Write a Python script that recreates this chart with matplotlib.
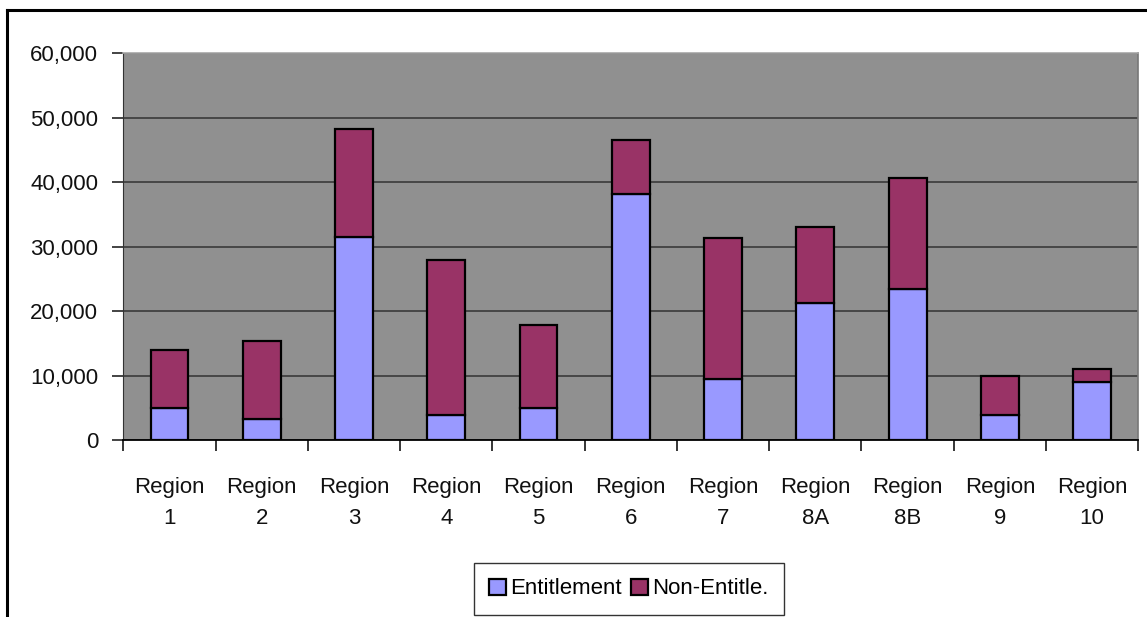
import matplotlib.pyplot as plt
import numpy as np
from matplotlib.lines import Line2D

plt.rcParams['font.family'] = ['Liberation Sans', 'DejaVu Sans']

# Caseload by region, split into entitlement / non-entitlement
regions = ["Region\n1", "Region\n2", "Region\n3", "Region\n4", "Region\n5", "Region\n6",
           "Region\n7", "Region\n8A", "Region\n8B", "Region\n9", "Region\n10"]
entitlement = [4900, 3200, 31500, 3900, 4900, 38100, 9400, 21200, 23500, 3900, 9000]
non_entitle = [9100, 12100, 16700, 24100, 13000, 8400, 21900, 11900, 17100, 6100, 2000]

W, H, DPI = 1147, 617, 100
fig = plt.figure(figsize=(W / DPI, H / DPI), dpi=DPI)
ax = fig.add_axes([123.3 / W, 1 - 440 / H, (1138.3 - 123.3) / W, (440 - 53.3) / H])

x = np.arange(len(regions))
bw = 0.41
ax.bar(x, entitlement, bw, color="#9999FF", edgecolor="black", linewidth=1.6,
       label="Entitlement", zorder=3)
ax.bar(x, non_entitle, bw, bottom=entitlement, color="#993366", edgecolor="black",
       linewidth=1.6, label="Non-Entitle.", zorder=3)

ax.set_facecolor("#909090")
ax.set_xlim(-0.5, len(regions) - 0.5)
ax.set_ylim(0, 60000)
ax.set_yticks(np.arange(0, 60001, 10000))
ax.set_yticklabels([f"{v:,}" for v in range(0, 60001, 10000)])
ax.yaxis.grid(True, color="#333333", linewidth=1.1, zorder=1)

fs = 16
ax.set_xticks(x)
ax.set_xticklabels(regions, linespacing=1.6)
ax.set_xticks(np.arange(-0.5, len(regions)), minor=True)
ax.tick_params(axis="x", which="major", length=0, pad=27)
ax.tick_params(axis="x", which="minor", length=8, width=1.1, color="black")
ax.tick_params(axis="y", length=8, width=1.1, color="black", pad=10)
ax.tick_params(labelsize=fs, colors="#111111")

for side in ("top", "right"):
    ax.spines[side].set_linewidth(1.2)
ax.spines["top"].set_color("#a8a8a8")
ax.spines["right"].set_color("#777777")
ax.spines["left"].set_color("#333333")
ax.spines["bottom"].set_color("black")
ax.spines["bottom"].set_linewidth(1.3)

leg = ax.legend(loc="center", bbox_to_anchor=(629 / W, 1 - 589 / H),
                bbox_transform=fig.transFigure, ncol=2, frameon=True, fancybox=False,
                fontsize=fs, handlelength=0.75, handleheight=0.75, handletextpad=0.2,
                columnspacing=0.4, borderpad=0.7, borderaxespad=0)
leg.get_frame().set_edgecolor("black")
leg.get_frame().set_linewidth(1.0)
for h in leg.legend_handles:
    h.set_linewidth(1.6)

# chart frame (runs off the right and bottom edges)
fig.add_artist(Line2D([7.5 / W, 1.0], [1 - 9.5 / H, 1 - 9.5 / H], color="black",
                      linewidth=2.2, transform=fig.transFigure))
fig.add_artist(Line2D([7.5 / W, 7.5 / W], [0.0, 1 - 9.5 / H], color="black",
                      linewidth=2.2, transform=fig.transFigure))

fig.savefig("out.png", dpi=DPI)
